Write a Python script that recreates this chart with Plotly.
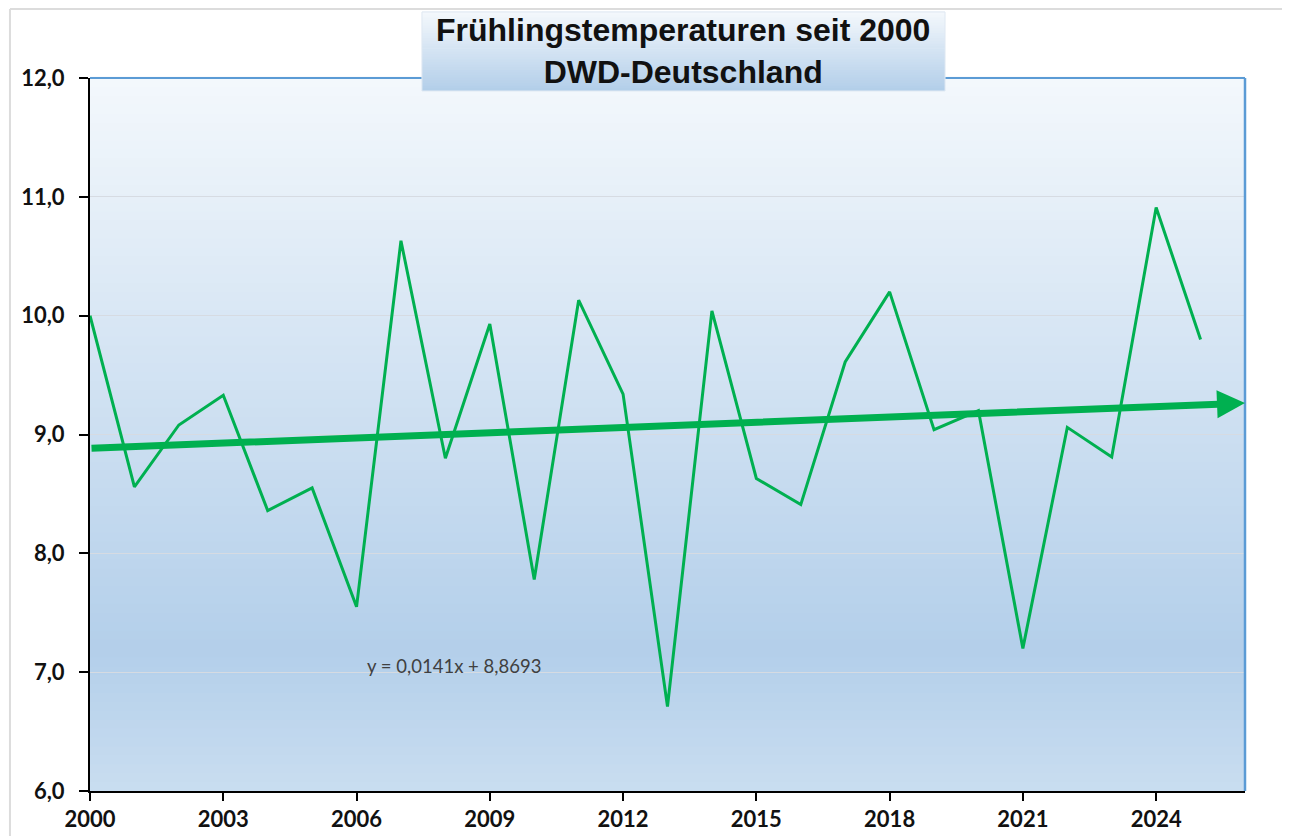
import plotly.graph_objects as go

years = list(range(2000, 2026))
temps = [10.00, 8.56, 9.08, 9.33, 8.36, 8.55, 7.55, 10.63, 8.80, 9.93,
         7.78, 10.13, 9.34, 6.71, 10.04, 8.63, 8.41, 9.61, 10.20, 9.04,
         9.20, 7.20, 9.06, 8.81, 10.91, 9.80]
x_ticks = [2000, 2003, 2006, 2009, 2012, 2015, 2018, 2021, 2024]
x_tick_labels = ["2000", "2003", "2006", "2009", "2012", "2015", "2018", "2021", "2024"]
y_ticks = [6, 7, 8, 9, 10, 11, 12]
y_tick_labels = ["6,0", "7,0", "8,0", "9,0", "10,0", "11,0", "12,0"]
trend_slope = 0.0141
trend_intercept = 8.8693
trend_start, trend_end = 2000, 2026
title_lines = ["Frühlingstemperaturen seit 2000", "DWD-Deutschland"]
equation_text = "y = 0,0141x + 8,8693"

GREEN = "#00b050"

def trend(year):
    return trend_slope * (year - 1999) + trend_intercept

def hexrgb(h):
    h = h.lstrip("#")
    return tuple(int(h[i:i + 2], 16) for i in (0, 2, 4))

def mix(c1, c2, t):
    a, b = hexrgb(c1), hexrgb(c2)
    return "rgb(%d,%d,%d)" % tuple(round(a[i] + (b[i] - a[i]) * t) for i in range(3))

fig = go.Figure()
fig.add_trace(go.Scatter(x=years, y=temps, mode="lines",
                         line=dict(color=GREEN, width=3), hoverinfo="x+y",
                         showlegend=False))

shapes = []
# plot-area gradient background
stops = [(0.0, "#c9ddf0"), (0.2, "#b3cfea"), (1.0, "#f4f8fc")]
n = 80
for i in range(n):
    y0 = i / n
    y1 = (i + 1) / n
    ym = (y0 + y1) / 2
    for (p0, c0), (p1, c1) in zip(stops[:-1], stops[1:]):
        if p0 <= ym <= p1:
            col = mix(c0, c1, (ym - p0) / (p1 - p0))
            break
    shapes.append(dict(type="rect", xref="paper", yref="paper", x0=0, x1=1,
                       y0=y0, y1=y1 + 0.002, fillcolor=col, line=dict(width=0),
                       layer="below"))

# top and right blue border
shapes.append(dict(type="line", xref="paper", yref="paper", x0=0, x1=1, y0=1, y1=1,
                   line=dict(color="#5b9bd5", width=2), layer="above"))
shapes.append(dict(type="line", xref="paper", yref="paper", x0=1, x1=1, y0=0, y1=1,
                   line=dict(color="#5b9bd5", width=2.5), layer="above"))

# outer frame (light gray)
shapes.append(dict(type="line", xref="paper", yref="paper", x0=-0.0693, x1=-0.0693,
                   y0=-0.2, y1=1.0968, line=dict(color="#dcdcdc", width=2)))
shapes.append(dict(type="line", xref="paper", yref="paper", x0=-0.0693, x1=1.04,
                   y0=1.0968, y1=1.0968, line=dict(color="#dcdcdc", width=2)))
shapes.append(dict(type="line", xref="paper", yref="paper", x0=1.0364, x1=1.0364,
                   y0=-0.2, y1=1.0968, line=dict(color="#eeeeee", width=1)))

# title box gradient
bx0, bx1, by0, by1 = 0.2874, 0.7403, 0.9818, 1.0926
m = 30
for i in range(m):
    t0 = i / m
    t1 = (i + 1) / m
    col = mix("#b2cee9", "#f4f8fc", (t0 + t1) / 2)
    shapes.append(dict(type="rect", xref="paper", yref="paper", x0=bx0, x1=bx1,
                       y0=by0 + (by1 - by0) * t0, y1=by0 + (by1 - by0) * t1 + 0.001,
                       fillcolor=col, line=dict(width=0), layer="above"))
shapes.append(dict(type="rect", xref="paper", yref="paper", x0=bx0, x1=bx1,
                   y0=by0, y1=by1, fillcolor="rgba(0,0,0,0)",
                   line=dict(color="#dfe8f2", width=1), layer="above"))

annotations = [
    # trend arrow
    dict(x=trend_end, y=trend(trend_end + 1), ax=trend_start, ay=trend(trend_start),
         xref="x", yref="y", axref="x", ayref="y", text="", showarrow=True,
         arrowhead=2, arrowsize=0.8, arrowwidth=7, arrowcolor=GREEN, standoff=0),
    dict(x=2006.2, y=7.05, xref="x", yref="y", text=equation_text, showarrow=False,
         xanchor="left", yanchor="middle",
         font=dict(family="Lato", size=18.5, color="#404040")),
    dict(x=(bx0 + bx1) / 2, y=(by0 + by1) / 2, xref="paper", yref="paper",
         text="<b>" + "<br>".join(title_lines) + "</b>", showarrow=False,
         xanchor="center", yanchor="middle",
         font=dict(family="Liberation Sans", size=32, color="#111111")),
]

fig.update_layout(
    width=1282, height=828,
    margin=dict(l=82, r=45, t=70, b=45, autoexpand=False),
    paper_bgcolor="white", plot_bgcolor="#dce8f4",
    shapes=shapes, annotations=annotations,
    separators=",.",
    xaxis=dict(range=[2000, 2026], tickvals=x_ticks, ticktext=x_tick_labels,
               showgrid=False, zeroline=False, showline=True, linecolor="black",
               linewidth=2, ticks="outside", ticklen=8, tickwidth=2, tickcolor="black",
               tickfont=dict(family="Lato", size=22, color="#111111", weight="bold"),
               ticklabelstandoff=0, automargin=False),
    yaxis=dict(range=[6, 12], tickvals=y_ticks, ticktext=y_tick_labels,
               showgrid=True, gridcolor="#d6dbe2", gridwidth=1, zeroline=False,
               showline=True, linecolor="black", linewidth=2, ticks="outside",
               ticklen=9, tickwidth=2, tickcolor="black",
               tickfont=dict(family="Lato", size=22, color="#111111", weight="bold"),
               ticklabelstandoff=10, automargin=False),
)

fig.write_html("out.html")
